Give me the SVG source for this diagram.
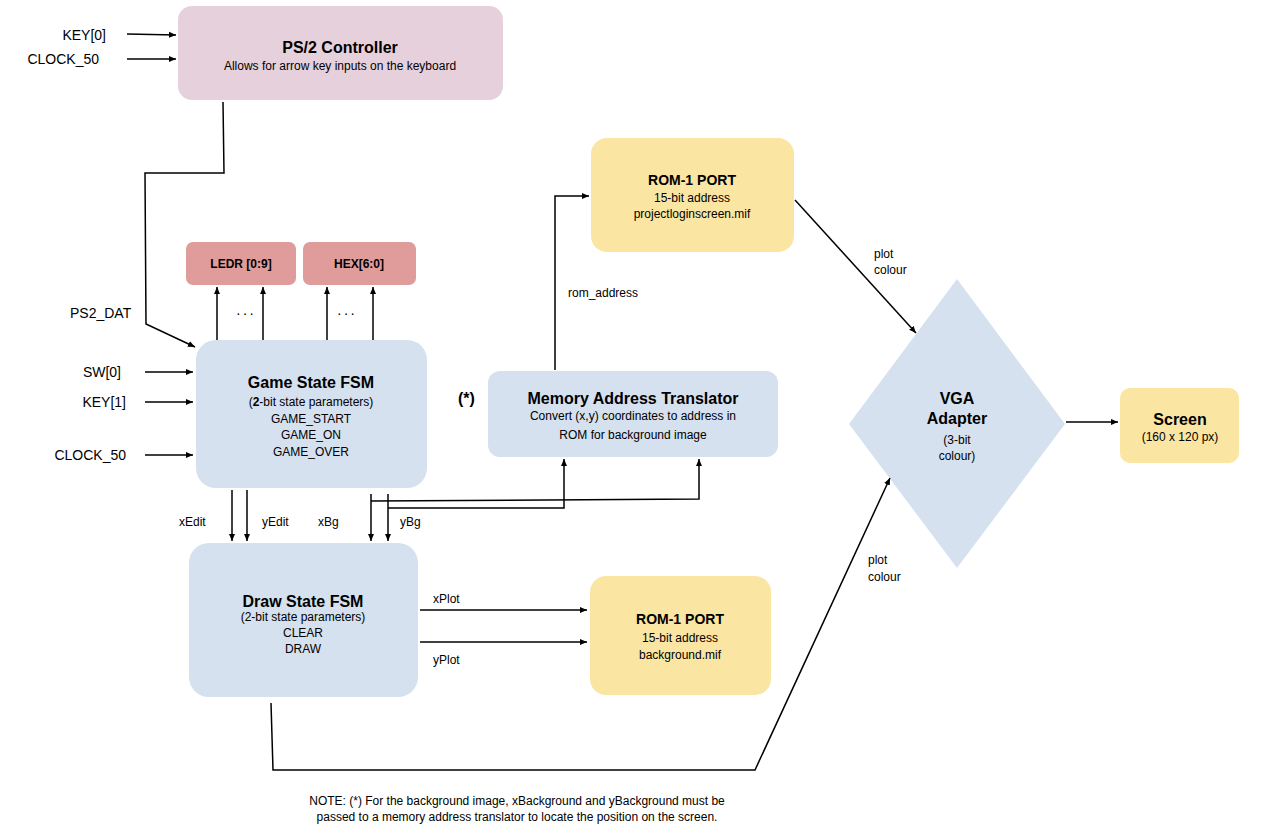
<svg xmlns="http://www.w3.org/2000/svg" width="1278" height="830" viewBox="0 0 1278 830">
<defs>
<marker id="a" markerWidth="8" markerHeight="8" refX="7" refY="4" orient="auto" markerUnits="userSpaceOnUse"><path d="M0,1 L7,4 L0,7 z" fill="#000"/></marker>
<style>
text{font-family:"Liberation Sans",Arial,sans-serif;fill:#000}
.t{font-size:16px;font-weight:bold}
.s{font-size:12px}
.l{font-size:14px}
.c{text-anchor:middle}
.e{text-anchor:end}
.w path,.w line,.w polyline{stroke:#000;stroke-width:1.5;fill:none}
.ar{marker-end:url(#a)}
</style>
</defs>
<rect width="1278" height="830" fill="#fff"/>
<g id="ps2"><rect x="178" y="6" width="325" height="94" rx="14" fill="#e6d0dc"/><text class="t c" x="340" y="53">PS/2 Controller</text><text class="s c" x="340" y="70">Allows for arrow key inputs on the keyboard</text></g>
<g id="ledr"><rect x="186" y="242" width="110" height="43" rx="7" fill="#e09c9a"/><text class="s c" x="241" y="268" font-weight="bold">LEDR [0:9]</text></g>
<g id="hex"><rect x="303" y="242" width="113" height="43" rx="7" fill="#e09c9a"/><text class="s c" x="359" y="268" font-weight="bold">HEX[6:0]</text></g>
<g id="game"><rect x="196" y="340" width="231" height="148" rx="20" fill="#d5e1ef"/><text class="t c" x="311" y="388">Game State FSM</text><text class="s c" x="311" y="406">(<tspan font-weight="bold">2</tspan>-bit state parameters)</text><text class="s c" x="311" y="423">GAME_START</text><text class="s c" x="311" y="439">GAME_ON</text><text class="s c" x="311" y="456">GAME_OVER</text></g>
<g id="draw"><rect x="189" y="543" width="229" height="154" rx="20" fill="#d5e1ef"/><text class="t c" x="303" y="607">Draw State FSM</text><text class="s c" x="303" y="621">(2-bit state parameters)</text><text class="s c" x="303" y="637">CLEAR</text><text class="s c" x="303" y="653">DRAW</text></g>
<g id="mat"><rect x="488" y="371" width="290" height="86" rx="12" fill="#d5e1ef"/><text class="t c" x="633" y="404">Memory Address Translator</text><text class="s c" x="633" y="420">Convert (x,y) coordinates to address in</text><text class="s c" x="633" y="439">ROM for background image</text></g>
<g id="rom1"><rect x="591" y="138" width="203" height="114" rx="16" fill="#fbe5a2"/><text class="l c" x="692" y="185" font-weight="bold">ROM-1 PORT</text><text class="s c" x="692" y="202">15-bit address</text><text class="s c" x="692" y="218">projectloginscreen.mif</text></g>
<g id="rom2"><rect x="590" y="576" width="181" height="119" rx="16" fill="#fbe5a2"/><text class="l c" x="680" y="624" font-weight="bold">ROM-1 PORT</text><text class="s c" x="680" y="642">15-bit address</text><text class="s c" x="680" y="659">background.mif</text></g>
<g id="vga"><polygon points="957,279 1065,424 957,568 849,424" fill="#d5e1ef"/><text class="t c" x="957" y="404">VGA</text><text class="t c" x="957" y="424">Adapter</text><text class="s c" x="957" y="444">(3-bit</text><text class="s c" x="957" y="460">colour)</text></g>
<g id="screen"><rect x="1120" y="388" width="119" height="75" rx="10" fill="#fbe5a2"/><text class="t c" x="1180" y="425">Screen</text><text class="s c" x="1180" y="441">(160 x 120 px)</text></g>
<g id="connectors" class="w">
<line class="ar" x1="127" y1="34" x2="176" y2="35"/>
<line class="ar" x1="127" y1="59" x2="176" y2="59"/>
<polyline class="ar" points="223,102 224,173 145,173 146,324 195,347"/>
<line class="ar" x1="217" y1="340" x2="217" y2="287"/>
<line class="ar" x1="263" y1="340" x2="263" y2="287"/>
<line class="ar" x1="327" y1="340" x2="327" y2="287"/>
<line class="ar" x1="373" y1="340" x2="373" y2="287"/>
<line class="ar" x1="145" y1="372" x2="193" y2="372"/>
<line class="ar" x1="145" y1="402" x2="193" y2="402"/>
<line class="ar" x1="145" y1="455" x2="193" y2="455"/>
<line class="ar" x1="232" y1="490" x2="232" y2="541"/>
<line class="ar" x1="247" y1="490" x2="247" y2="541"/>
<line class="ar" x1="371" y1="494" x2="371" y2="541"/>
<line class="ar" x1="388" y1="494" x2="388" y2="541"/>
<polyline class="ar" points="371,501 699,499 699,459"/>
<polyline class="ar" points="388,508 564,508 564,459"/>
<polyline class="ar" points="555,370 555,196 589,196"/>
<line class="ar" x1="795" y1="200" x2="916" y2="333"/>
<line class="ar" x1="420" y1="610" x2="587" y2="610"/>
<line class="ar" x1="420" y1="642" x2="587" y2="642"/>
<polyline class="ar" points="271,703 273,770 755,770 890,478"/>
<line class="ar" x1="1066" y1="422" x2="1118" y2="422"/>
</g>
<g id="labels">
<text class="l e" x="106" y="40">KEY[0]</text>
<text class="l e" x="99" y="64">CLOCK_50</text>
<text class="l" x="70" y="318">PS2_DAT</text>
<text class="l" x="236" y="318" letter-spacing="2">···</text>
<text class="l" x="337" y="318" letter-spacing="2">···</text>
<text class="l e" x="121" y="377">SW[0]</text>
<text class="l e" x="126" y="407">KEY[1]</text>
<text class="l e" x="126" y="460">CLOCK_50</text>
<text class="s" x="179" y="526">xEdit</text>
<text class="s" x="262" y="526">yEdit</text>
<text class="s" x="318" y="526">xBg</text>
<text class="s" x="400" y="526">yBg</text>
<text class="t" x="458" y="404">(*)</text>
<text class="s" x="568" y="297">rom_address</text>
<text class="s" x="433" y="603">xPlot</text>
<text class="s" x="433" y="664">yPlot</text>
<text class="s" x="874" y="258">plot</text>
<text class="s" x="874" y="274">colour</text>
<text class="s" x="868" y="564">plot</text>
<text class="s" x="868" y="581">colour</text>
<text class="s c" x="517" y="805">NOTE: (*) For the background image, xBackground and yBackground must be</text>
<text class="s c" x="517" y="821">passed to a memory address translator to locate the position on the screen.</text>
</g>
</svg>
